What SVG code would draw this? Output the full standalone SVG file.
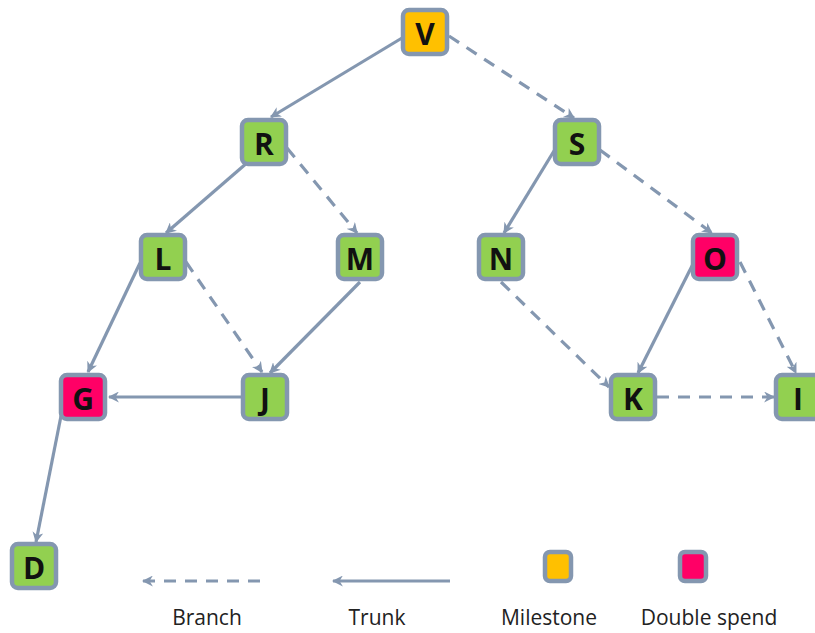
<svg xmlns="http://www.w3.org/2000/svg" width="815" height="633" viewBox="0 0 815 633">
  <style>
    .node rect { stroke: #8497b0; stroke-width: 4.5; }
    .tx { fill: #92d050; }
    .ms { fill: #ffc000; }
    .ds { fill: #ff0066; }
    .node text { font-family: "Open Sans", "Liberation Sans", sans-serif; font-weight: bold; font-size: 30px; fill: #111; text-anchor: middle; dominant-baseline: central; }
    .edge { stroke: #8497b0; stroke-width: 3.2; fill: none; }
    .trunk { marker-end: url(#arrow); }
    .branch { stroke-dasharray: 12 9; marker-end: url(#arrow); }
    .legend { font-family: "Open Sans", "Liberation Sans", sans-serif; font-size: 21px; fill: #222; text-anchor: middle; }
  </style>
  <defs>
    <marker id="arrow" viewBox="0 0 10 10" refX="9" refY="5" markerWidth="11" markerHeight="11" markerUnits="userSpaceOnUse" orient="auto">
      <path d="M0,0 L10,5 L0,10 L3,5 Z" fill="#8497b0"/>
    </marker>
  </defs>
  <rect width="815" height="633" fill="#ffffff"/>

  <!-- connectors -->
  <g id="connectors">
    <line class="edge trunk" x1="402" y1="38" x2="271" y2="117"/>
    <line class="edge branch" x1="449" y1="36" x2="574" y2="118"/>
    <line class="edge trunk" x1="248" y1="162" x2="166" y2="233"/>
    <line class="edge branch" x1="287" y1="148" x2="357" y2="233"/>
    <line class="edge trunk" x1="557" y1="146" x2="504" y2="233"/>
    <line class="edge branch" x1="600" y1="150" x2="712" y2="233"/>
    <line class="edge trunk" x1="140" y1="263" x2="88" y2="372"/>
    <line class="edge branch" x1="186" y1="262" x2="262" y2="372"/>
    <line class="edge trunk" x1="360" y1="282" x2="270" y2="373"/>
    <line class="edge branch" x1="501" y1="282" x2="609" y2="387"/>
    <line class="edge trunk" x1="694" y1="262" x2="638" y2="373"/>
    <line class="edge branch" x1="740" y1="262" x2="796" y2="373"/>
    <line class="edge trunk" x1="242" y1="397" x2="109" y2="397"/>
    <line class="edge branch" x1="657" y1="397" x2="774" y2="397"/>
    <line class="edge trunk" x1="61" y1="416" x2="36" y2="542"/>
    <!-- legend lines -->
    <line class="edge branch" x1="260" y1="581" x2="143" y2="581"/>
    <line class="edge trunk" x1="450" y1="581" x2="333" y2="581"/>
  </g>

  <!-- nodes -->
  <g id="V" class="node"><rect class="ms" x="403" y="10" width="44" height="44" rx="6"/><text x="425" y="33">V</text></g>
  <g id="R" class="node"><rect class="tx" x="242" y="120" width="44" height="44" rx="6"/><text x="264" y="143">R</text></g>
  <g id="S" class="node"><rect class="tx" x="555" y="120" width="44" height="44" rx="6"/><text x="577" y="143">S</text></g>
  <g id="L" class="node"><rect class="tx" x="141" y="235" width="44" height="44" rx="6"/><text x="163" y="258">L</text></g>
  <g id="M" class="node"><rect class="tx" x="338" y="235" width="44" height="44" rx="6"/><text x="360" y="258">M</text></g>
  <g id="N" class="node"><rect class="tx" x="479" y="235" width="44" height="44" rx="6"/><text x="501" y="258">N</text></g>
  <g id="O" class="node"><rect class="ds" x="693" y="235" width="44" height="44" rx="6"/><text x="715" y="258">O</text></g>
  <g id="G" class="node"><rect class="ds" x="61" y="375" width="44" height="44" rx="6"/><text x="83" y="398">G</text></g>
  <g id="J" class="node"><rect class="tx" x="243" y="375" width="44" height="44" rx="6"/><text x="265" y="398">J</text></g>
  <g id="K" class="node"><rect class="tx" x="611" y="375" width="44" height="44" rx="6"/><text x="633" y="398">K</text></g>
  <g id="I" class="node"><rect class="tx" x="776" y="375" width="44" height="44" rx="6"/><text x="798" y="398">I</text></g>
  <g id="D" class="node"><rect class="tx" x="12" y="544" width="44" height="44" rx="6"/><text x="34" y="567">D</text></g>

  <!-- legend -->
  <g id="legend">
    <g class="node"><rect class="ms" x="545" y="552" width="26" height="29" rx="5"/></g>
    <g class="node"><rect class="ds" x="680" y="552" width="26" height="29" rx="5"/></g>
    <text class="legend" x="207" y="625">Branch</text>
    <text class="legend" x="377" y="625">Trunk</text>
    <text class="legend" x="549" y="625">Milestone</text>
    <text class="legend" x="709" y="625">Double spend</text>
  </g>
</svg>
